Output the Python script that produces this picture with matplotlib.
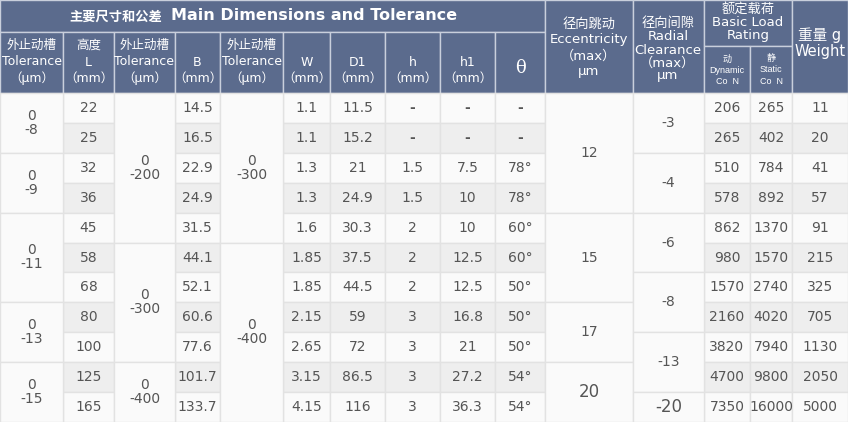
import matplotlib
matplotlib.use("Agg")
import matplotlib.pyplot as plt
from matplotlib.patches import Rectangle

plt.rcParams["font.family"] = ["DejaVu Sans", "Noto Sans CJK SC"]

L_mm = ["22", "25", "32", "36", "45", "58", "68", "80", "100", "125", "165"]
B_mm = ["14.5", "16.5", "22.9", "24.9", "31.5", "44.1", "52.1", "60.6", "77.6", "101.7", "133.7"]
W_mm = ["1.1", "1.1", "1.3", "1.3", "1.6", "1.85", "1.85", "2.15", "2.65", "3.15", "4.15"]
D1_mm = ["11.5", "15.2", "21", "24.9", "30.3", "37.5", "44.5", "59", "72", "86.5", "116"]
h_mm = ["-", "-", "1.5", "1.5", "2", "2", "2", "3", "3", "3", "3"]
h1_mm = ["-", "-", "7.5", "10", "10", "12.5", "12.5", "16.8", "21", "27.2", "36.3"]
theta = ["-", "-", "78°", "78°", "60°", "60°", "50°", "50°", "50°", "54°", "54°"]
dynamic = ["206", "265", "510", "578", "862", "980", "1570", "2160", "3820", "4700", "7350"]
static = ["265", "402", "784", "892", "1370", "1570", "2740", "4020", "7940", "9800", "16000"]
weight = ["11", "20", "41", "57", "91", "215", "325", "705", "1130", "2050", "5000"]
# merged groups: (first row, last row, text)
tol_outer = [(0, 1, "0\n-8"), (2, 3, "0\n-9"), (4, 6, "0\n-11"), (7, 8, "0\n-13"), (9, 10, "0\n-15")]
tol_mid = [(0, 4, "0\n-200"), (5, 8, "0\n-300"), (9, 10, "0\n-400")]
tol_inner = [(0, 4, "0\n-300"), (5, 10, "0\n-400")]
ecc = [(0, 3, "12"), (4, 6, "15"), (7, 8, "17"), (9, 10, "20")]
radial = [(0, 1, "-3"), (2, 3, "-4"), (4, 5, "-6"), (6, 7, "-8"), (8, 9, "-13"), (10, 10, "-20")]

W, H = 848, 422
edges = [0, 63, 114, 175, 220, 283, 330, 385, 440, 495, 545, 633, 704, 750, 792, 848]
top = 93
rh = (H - top) / 11

fig = plt.figure(figsize=(W / 100, H / 100), dpi=100)
ax = fig.add_axes([0, 0, 1, 1])
ax.set_xlim(0, W)
ax.set_ylim(H, 0)
ax.axis("off")

HB = "#5b6b8d"
HL = "#c9cfdc"
TXT = "#555555"
GRID = "#e2e2e2"
CJK = ["Noto Sans CJK SC", "DejaVu Sans"]

def rect(x0, y0, x1, y1, fc, ec):
    ax.add_patch(Rectangle((x0, y0), x1 - x0, y1 - y0, facecolor=fc, edgecolor=ec, lw=1))

def txt(x, y, s, size=10, color=TXT, linespacing=1.0, **kw):
    ax.text(x, y, s, ha="center", va="center", fontsize=size, color=color, linespacing=linespacing, **kw)

# header
rect(0, 0, 545, 32, HB, HL)
ax.text(162, 17, "主要尺寸和公差", ha="right", va="center", fontsize=9.5, color="white", fontweight="bold", family=CJK)
ax.text(171, 15, "Main Dimensions and Tolerance", ha="left", va="center", fontsize=11.5, color="white", fontweight="bold")
hdr = ["外止动槽\nTolerance\n（μm）", "高度\nL\n（mm）", "外止动槽\nTolerance\n（μm）", "\nB\n（mm）",
       "外止动槽\nTolerance\n（μm）", "\nW\n（mm）", "\nD1\n（mm）", "\nh\n（mm）", "\nh1\n（mm）"]
for i, s in enumerate(hdr):
    rect(edges[i], 32, edges[i + 1], top, HB, HL)
    txt((edges[i] + edges[i + 1]) / 2, 62, s, size=9, color="white", linespacing=1.35)
rect(495, 32, 545, top, HB, HL)
txt(520, 68, "θ", size=13, color="white", family="DejaVu Serif")
rect(545, 0, 633, top, HB, HL)
txt(589, 48, "径向跳动\nEccentricity\n（max）\nμm", size=9.5, color="white", linespacing=1.3)
rect(633, 0, 704, top, HB, HL)
txt(668, 50, "径向间隙\nRadial\nClearance\n（max）\nμm", size=9.5, color="white", linespacing=1.0)
rect(704, 0, 792, 46, HB, HL)
txt(748, 23, "额定载荷\nBasic Load\nRating", size=9.5, color="white", linespacing=0.95)
rect(704, 46, 750, top, HB, HL)
txt(727, 70, "动\nDynamic\nCo  N", size=6.5, color="white", linespacing=1.3, family=["Liberation Sans", "Noto Sans CJK SC"])
rect(750, 46, 792, top, HB, HL)
txt(771, 70, "静\nStatic\nCo  N", size=6.5, color="white", linespacing=1.3, family=["Liberation Sans", "Noto Sans CJK SC"])
rect(792, 0, 848, top, HB, HL)
txt(820, 43, "重量 g\nWeight", size=10.5, color="white", linespacing=1.1)

# body: single columns
singles = {1: L_mm, 3: B_mm, 5: W_mm, 6: D1_mm, 7: h_mm, 8: h1_mm, 9: theta,
           12: dynamic, 13: static, 14: weight}
for c, vals in singles.items():
    for r, v in enumerate(vals):
        y0 = top + r * rh
        rect(edges[c], y0, edges[c + 1], y0 + rh, "#eeeeee" if r % 2 else "#fafafa", GRID)
        fw = "bold" if (v == "-") else "normal"
        txt((edges[c] + edges[c + 1]) / 2, y0 + rh / 2, v, size=10, fontweight=fw)

for c, groups in [(0, tol_outer), (2, tol_mid), (4, tol_inner), (10, ecc), (11, radial)]:
    for a, b, s in groups:
        y0 = top + a * rh
        y1 = top + (b + 1) * rh
        rect(edges[c], y0, edges[c + 1], y1, "#fafafa", GRID)
        size = 12 if s in ("20", "-20") else 10
        txt((edges[c] + edges[c + 1]) / 2, (y0 + y1) / 2, s, size=size)

fig.savefig("out.png", dpi=100)
